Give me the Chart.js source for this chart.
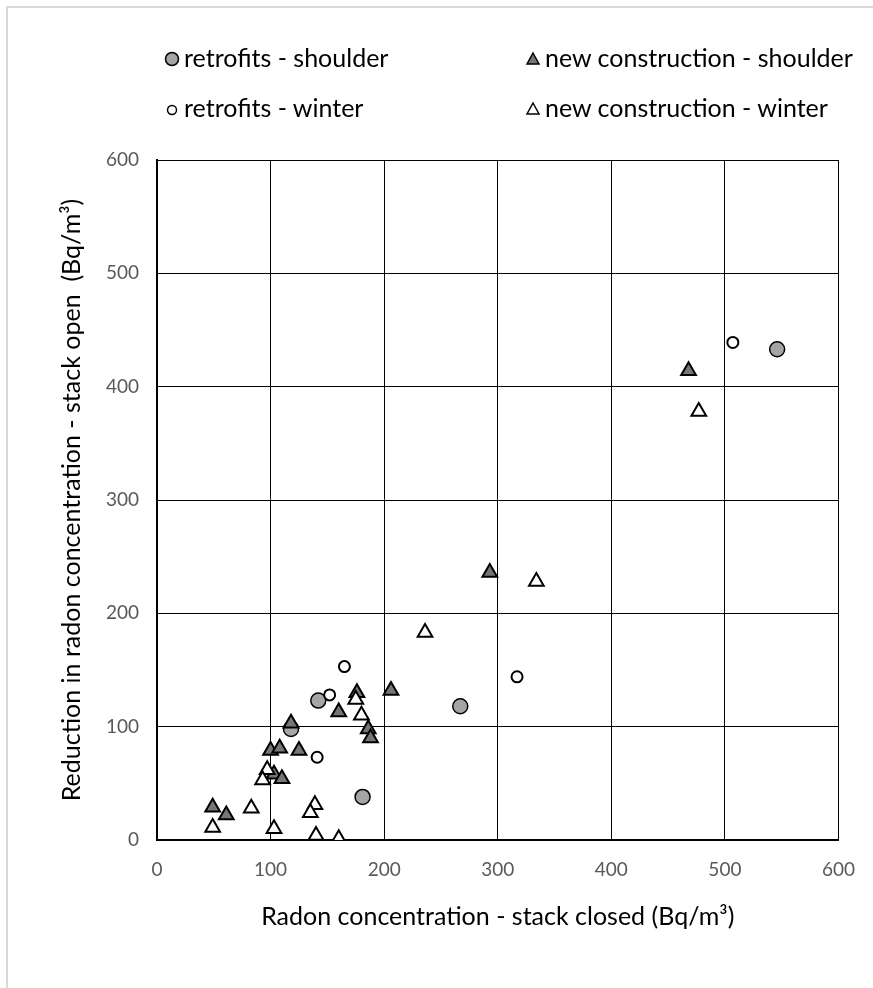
<!DOCTYPE html>
<html>
<head>
<meta charset="utf-8">
<script src="https://cdn.jsdelivr.net/npm/chart.js@4"></script>
<style>
  html, body { margin: 0; padding: 0; background: #fff; }
  #wrap { position: relative; width: 873px; height: 988px; }
  #frame { position: absolute; left: 6px; top: 6px; width: 867px; height: 982px; border-left: 2px solid #d9d9d9; border-top: 2px solid #d9d9d9; box-sizing: border-box; }
  canvas { position: absolute; left: 0; top: 0; }
  .legend { position: absolute; font-family: Lato, sans-serif; font-size: 25px; color: #000; white-space: nowrap; line-height: 30px; }
  .legend svg { vertical-align: middle; margin-right: 4px; position: relative; top: -2px; }
</style>
</head>
<body>
<div id="wrap">
  <div id="frame"></div>
  <canvas id="chart" width="873" height="988"></canvas>
  <div class="legend" style="left:164px; top:42px;"><svg width="16" height="16"><circle cx="8" cy="8" r="6.5" fill="#a5a5a5" stroke="#000" stroke-width="1.5"/></svg>retrofits - shoulder</div>
  <div class="legend" style="left:525px; top:42px;"><svg width="16" height="16"><polygon points="8,2 14,13 2,13" fill="#767676" stroke="#000" stroke-width="1.5"/></svg>new construction - shoulder</div>
  <div class="legend" style="left:164px; top:92px;"><svg width="16" height="16"><circle cx="8" cy="9" r="4.5" fill="#fff" stroke="#000" stroke-width="1.5"/></svg>retrofits - winter</div>
  <div class="legend" style="left:525px; top:92px;"><svg width="16" height="16"><polygon points="8,2 14,13 2,13" fill="#fff" stroke="#000" stroke-width="1.5"/></svg>new construction - winter</div>
</div>
<script>
// values (stack closed, reduction when stack open)
const retrofitShoulderX = [546, 267, 142, 118, 181];
const retrofitShoulderY = [433, 118, 123, 98, 38];

const retrofitWinterX = [507, 165, 317, 152, 141];
const retrofitWinterY = [439, 153, 144, 128, 73];

const newShoulderX = [468, 293, 206, 176, 160, 186, 188, 118, 100, 108, 125, 103, 110, 49, 61];
const newShoulderY = [414, 236, 132, 130, 113, 98, 90, 103, 79, 81, 79, 58, 54, 29, 22];

const newWinterX = [477, 334, 236, 175, 180, 97, 93, 83, 49, 103, 139, 135, 140, 160];
const newWinterY = [378, 228, 183, 124, 110, 62, 53, 28, 11, 10, 31, 24, 4, 1];

const axisTicks = [0, 100, 200, 300, 400, 500, 600];

function toPoints(xs, ys) {
    return xs.map((x, i) => ({ x: x, y: ys[i] }));
}

const tickFont = { family: 'Lato, sans-serif', size: 19 };
const titleFont = { family: 'Lato, sans-serif', size: 25 };

const ctx = document.getElementById('chart').getContext('2d');
new Chart(ctx, {
    type: 'scatter',
    data: {
        datasets: [
            {
                label: 'retrofits - shoulder',
                data: toPoints(retrofitShoulderX, retrofitShoulderY),
                pointStyle: 'circle',
                pointRadius: 7.5,
                backgroundColor: '#a5a5a5',
                borderColor: '#000',
                borderWidth: 1.5,
                order: 4
            },
            {
                label: 'new construction - shoulder',
                data: toPoints(newShoulderX, newShoulderY),
                pointStyle: 'triangle',
                pointRadius: 8.5,
                backgroundColor: '#767676',
                borderColor: '#000',
                borderWidth: 2,
                order: 3
            },
            {
                label: 'retrofits - winter',
                data: toPoints(retrofitWinterX, retrofitWinterY),
                pointStyle: 'circle',
                pointRadius: 5.5,
                backgroundColor: '#fff',
                borderColor: '#000',
                borderWidth: 2,
                order: 2
            },
            {
                label: 'new construction - winter',
                data: toPoints(newWinterX, newWinterY),
                pointStyle: 'triangle',
                pointRadius: 8.5,
                backgroundColor: '#fff',
                borderColor: '#000',
                borderWidth: 2,
                order: 1
            }
        ]
    },
    options: {
        responsive: false,
        animation: false,
        layout: { padding: { top: 160, right: 28, left: 0, bottom: 0 } },
        plugins: {
            legend: { display: false },
            tooltip: { enabled: false }
        },
        scales: {
            x: {
                type: 'linear',
                min: 0,
                max: 600,
                afterBuildTicks: scale => { scale.ticks = axisTicks.map(v => ({ value: v })); },
                afterFit: scale => { scale.height = 148; },
                grid: { color: '#000', lineWidth: 1, drawTicks: false },
                border: { color: '#000', width: 2 },
                ticks: { font: tickFont, color: '#595959', padding: 18 },
                title: {
                    display: true,
                    text: 'Radon concentration - stack closed (Bq/m³)',
                    font: titleFont,
                    color: '#000',
                    padding: { top: 0, bottom: 56 }
                }
            },
            y: {
                type: 'linear',
                min: 0,
                max: 600,
                afterBuildTicks: scale => { scale.ticks = axisTicks.map(v => ({ value: v })); },
                afterFit: scale => { scale.width = 157; },
                grid: { color: '#000', lineWidth: 1, drawTicks: false },
                border: { color: '#000', width: 2 },
                ticks: { font: tickFont, color: '#595959', padding: 18 },
                title: {
                    display: true,
                    text: 'Reduction in radon concentration - stack open  (Bq/m³)',
                    font: titleFont,
                    color: '#000',
                    padding: { top: 57, bottom: 0 }
                }
            }
        }
    }
});
</script>
</body>
</html>
